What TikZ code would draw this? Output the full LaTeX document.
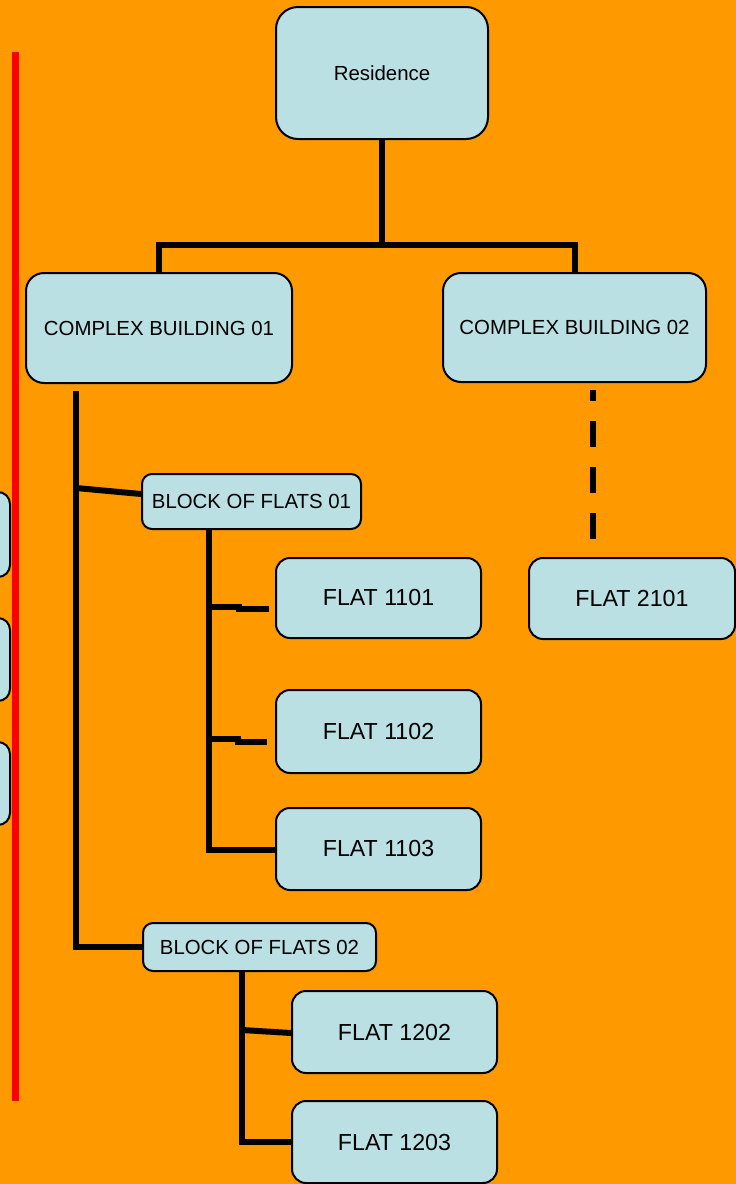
\documentclass[tikz,border=0pt]{standalone}
\usepackage{fontspec}
\setmainfont{Liberation Sans}
\definecolor{bgorange}{HTML}{FF9900}
\definecolor{boxblue}{HTML}{BBE0E3}
\definecolor{redline}{HTML}{FF0000}
\newcommand{\lowertext}[1]{\raisebox{-2pt}{#1}}
\tikzset{
  box/.style={draw=black, line width=2pt, fill=boxblue, inner sep=0pt, align=center,
    font=\fontsize{20.4}{24}\selectfont},
  flatbox/.style={box, rounded corners=14pt, minimum width=205pt,
    font=\fontsize{23.2}{27}\selectfont},
  conn/.style={draw=black, line width=6pt},
}
\begin{document}
\begin{tikzpicture}[x=1pt,y=-1pt]
\useasboundingbox (0,0) rectangle (736,1184);
\fill[bgorange] (0,0) rectangle (736,1184);
\clip (0,0) rectangle (736,1184);
% left partial boxes
\draw[line width=2pt, fill=boxblue, rounded corners=12pt] (-40,492) rectangle (10,577);
\draw[line width=2pt, fill=boxblue, rounded corners=12pt] (-40,618) rectangle (10,701);
\draw[line width=2pt, fill=boxblue, rounded corners=12pt] (-40,742) rectangle (10,825);
% red line
\coordinate (r1) at (15.5,52);
\coordinate (r2) at (15.5,1101);
\draw[redline, line width=7pt] (r1) -- (r2);

% nodes
\node[box, rounded corners=22pt, minimum width=212pt, minimum height=132pt] (res) at (382,73) {\lowertext{Residence}};
\node[box, rounded corners=18pt, minimum width=266pt, minimum height=110pt] (cb1) at (159,328) {\lowertext{COMPLEX BUILDING 01}};
\node[box, rounded corners=18pt, minimum width=263pt, minimum height=109pt] (cb2) at (574.5,327.5) {\lowertext{COMPLEX BUILDING 02}};
\node[box, rounded corners=10pt, minimum width=219pt, minimum height=55pt] (bf1) at (251.5,501.5) {\lowertext{BLOCK OF FLATS 01}};
\node[flatbox, minimum height=80pt] (f1101) at (378.5,598) {\lowertext{FLAT 1101}};
\node[flatbox, minimum height=83pt] (f1102) at (378.5,731.5) {\lowertext{FLAT 1102}};
\node[flatbox, minimum height=82pt] (f1103) at (378.5,849) {\lowertext{FLAT 1103}};
\node[flatbox, minimum width=206pt, minimum height=81pt] (f2101) at (632,598.5) {\lowertext{FLAT 2101}};
\node[box, rounded corners=10pt, minimum width=233pt, minimum height=48pt] (bf2) at (259.5,947) {\lowertext{BLOCK OF FLATS 02}};
\node[flatbox, minimum height=82pt] (f1202) at (394.5,1032) {\lowertext{FLAT 1202}};
\node[flatbox, minimum height=82pt] (f1203) at (394.5,1142) {\lowertext{FLAT 1203}};

% connector points
\coordinate (j0) at (382,245);
\coordinate (t1) at (76,391);
\coordinate (t2) at (76,947);
\coordinate (b1) at (76,488);
\coordinate (s1) at (209,850);
\coordinate (a1) at (209,607);
\coordinate (a2) at (242,607);
\coordinate (a3) at (236,609);
\coordinate (a4) at (269,609);
\coordinate (c1) at (209,739);
\coordinate (c2) at (241,739);
\coordinate (c3) at (235,742);
\coordinate (c4) at (267,742);
\coordinate (d1) at (593,390);
\coordinate (d2) at (593,540);
\coordinate (e1) at (242,1142);
\coordinate (e2) at (242,1030);

\draw[conn] (res.south) -- (j0);
\draw[conn] (cb1.north) |- (j0) -| (cb2.north);
\draw[conn] (t1) -- (t2) -- (bf2.west);
\draw[conn] (b1) -- ([yshift=7.5pt]bf1.west);
\draw[conn] (bf1.south -| s1) -- (s1) -- (s1 -| f1103.west);
\draw[conn] (a1) -- (a2);
\draw[conn] (a3) -- (a4);
\draw[conn] (c1) -- (c2);
\draw[conn] (c3) -- (c4);
\draw[conn, dash pattern=on 26pt off 20pt, dash phase=15pt] (d1) -- (d2);
\draw[conn] (bf2.south -| e1) -- (e1) -- (f1203.west |- e1);
\draw[conn] (e2) -- ([yshift=-1pt]f1202.west);
\end{tikzpicture}
\end{document}
